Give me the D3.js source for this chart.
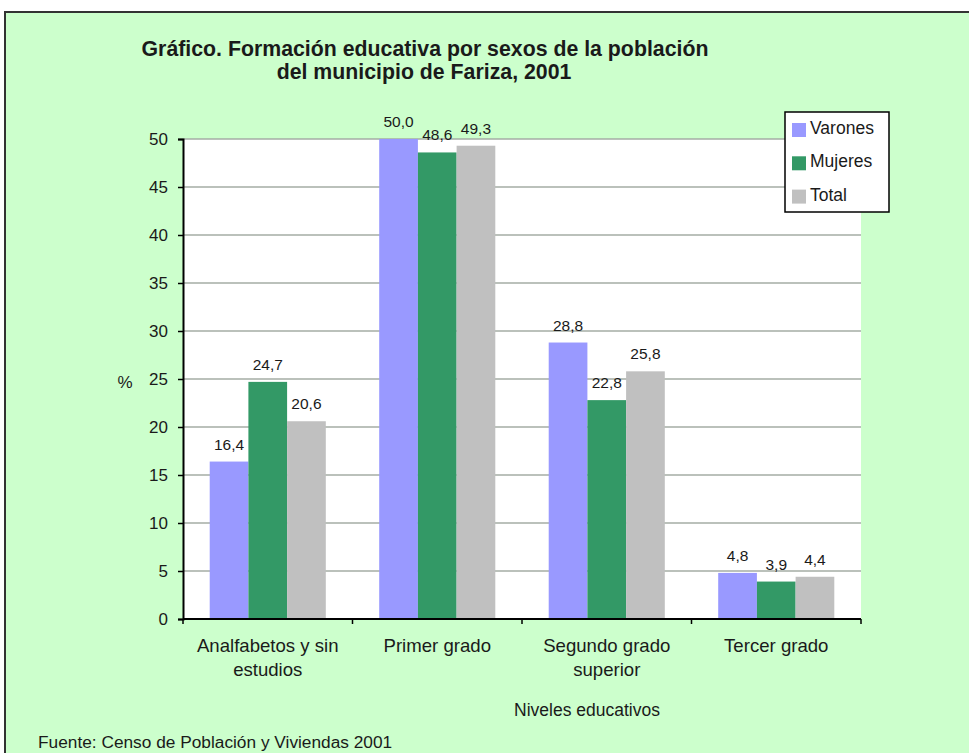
<!DOCTYPE html>
<html>
<head>
<meta charset="utf-8">
<script src="https://cdn.jsdelivr.net/npm/d3@7"></script>
<style>
  body { margin: 0; background: #fff; }
  svg text { font-family: "Liberation Sans", Arial, sans-serif; fill: #1a1a1a; }
</style>
</head>
<body>
<div id="viz"></div>
<script>
// datos - data
var categories = [["Analfabetos y sin", "estudios"], ["Primer grado"], ["Segundo grado", "superior"], ["Tercer grado"]];
var series = ["Varones", "Mujeres", "Total"];
var varones = [16.4, 50.0, 28.8, 4.8];
var mujeres = [24.7, 48.6, 22.8, 3.9];
var total = [20.6, 49.3, 25.8, 4.4];
var yTicks = [0, 5, 10, 15, 20, 25, 30, 35, 40, 45, 50];

var values = [varones, mujeres, total];
var colors = ["#9999ff", "#339966", "#c0c0c0"];

var W = 969, H = 753;
var svg = d3.select('#viz').append('svg')
  .attr('width', W).attr('height', H);

// fondo verde con borde - green background with frame
svg.append('rect')
  .attr('x', 5).attr('y', 12)
  .attr('width', W + 10).attr('height', H + 10)
  .attr('fill', '#ccffcc')
  .attr('stroke', '#333').attr('stroke-width', 2);

var plotL = 183, plotR = 861, plotT = 139, plotB = 619;

var y = d3.scaleLinear().domain([0, 50]).range([plotB, plotT]);
var x0 = d3.scaleBand().domain(d3.range(categories.length)).range([plotL, plotR]).padding(0);
var x1 = d3.scaleBand().domain(series).range([0, x0.bandwidth()]).paddingInner(0).paddingOuter(0.69);

// area del grafico - plot area
svg.append('rect')
  .attr('x', plotL).attr('y', plotT)
  .attr('width', plotR - plotL).attr('height', plotB - plotT)
  .attr('fill', '#fff');

svg.append('g').selectAll('line')
  .data(yTicks.filter(function(d){ return d > 0; }))
  .join('line')
  .attr('x1', plotL).attr('x2', plotR)
  .attr('y1', function(d){ return y(d); })
  .attr('y2', function(d){ return y(d); })
  .attr('stroke', '#a4aca4').attr('stroke-width', 1.5);

// barras - bars
var groups = svg.append('g').selectAll('g')
  .data(categories)
  .join('g')
  .attr('transform', function(d, i){ return 'translate(' + x0(i) + ',0)'; });

groups.selectAll('rect')
  .data(function(d, i){ return series.map(function(s, j){ return {s: s, v: values[j][i], c: colors[j]}; }); })
  .join('rect')
  .attr('x', function(d){ return x1(d.s); })
  .attr('width', x1.bandwidth())
  .attr('y', function(d){ return y(d.v); })
  .attr('height', function(d){ return y(0) - y(d.v); })
  .attr('fill', function(d){ return d.c; });

groups.selectAll('text.lbl')
  .data(function(d, i){ return series.map(function(s, j){ return {s: s, v: values[j][i]}; }); })
  .join('text')
  .attr('class', 'lbl')
  .attr('x', function(d){ return x1(d.s) + x1.bandwidth() / 2; })
  .attr('y', function(d){ return y(d.v) - 12; })
  .attr('text-anchor', 'middle')
  .style('font-size', '15.5px')
  .text(function(d){ return d.v.toFixed(1).replace('.', ','); });

// ejes - axes
var yAxis = svg.append('g')
  .attr('transform', 'translate(' + plotL + ',0)')
  .call(d3.axisLeft(y).tickValues(yTicks).tickSize(5).tickPadding(10));
yAxis.select('.domain').attr('stroke', '#000').attr('stroke-width', 2);
yAxis.selectAll('.tick line').attr('stroke', '#000').attr('stroke-width', 1.5);
yAxis.selectAll('.tick text')
  .style('font-size', '17px')
  .style('font-family', '"Liberation Sans", Arial, sans-serif')
  .attr('fill', '#1a1a1a');

var xAxis = svg.append('g')
  .attr('transform', 'translate(0,' + plotB + ')');
xAxis.append('line')
  .attr('x1', plotL).attr('x2', plotR)
  .attr('stroke', '#000').attr('stroke-width', 2);
xAxis.selectAll('line.tk')
  .data(d3.range(categories.length + 1))
  .join('line')
  .attr('class', 'tk')
  .attr('x1', function(i){ return plotL + i * x0.step(); })
  .attr('x2', function(i){ return plotL + i * x0.step(); })
  .attr('y1', 0).attr('y2', 5)
  .attr('stroke', '#000').attr('stroke-width', 1.5);

var catText = svg.append('g').selectAll('text')
  .data(categories)
  .join('text')
  .attr('text-anchor', 'middle')
  .style('font-size', '18.6px')
  .attr('transform', function(d, i){ return 'translate(' + (x0(i) + x0.bandwidth() / 2) + ',652)'; });
catText.selectAll('tspan')
  .data(function(d){ return d; })
  .join('tspan')
  .attr('x', 0)
  .attr('dy', function(d, i){ return i === 0 ? 0 : 24; })
  .text(function(d){ return d; });

svg.append('text')
  .attr('x', 125).attr('y', 388)
  .attr('text-anchor', 'middle')
  .style('font-size', '17px')
  .text('%');

svg.append('text')
  .attr('x', 587).attr('y', 716)
  .attr('text-anchor', 'middle')
  .style('font-size', '17.5px')
  .text('Niveles educativos');

// titulo - title
svg.append('text')
  .attr('x', 425).attr('y', 56)
  .attr('text-anchor', 'middle')
  .style('font-size', '21.3px').style('font-weight', 'bold')
  .text('Gráfico. Formación educativa por sexos de la población');
svg.append('text')
  .attr('x', 424).attr('y', 79)
  .attr('text-anchor', 'middle')
  .style('font-size', '21.3px').style('font-weight', 'bold')
  .text('del municipio de Fariza, 2001');

svg.append('text')
  .attr('x', 38).attr('y', 748)
  .style('font-size', '17.3px')
  .text('Fuente: Censo de Población y Viviendas 2001');

// leyenda - legend
var legend = svg.append('g').attr('transform', 'translate(785,112)');
legend.append('rect')
  .attr('width', 104).attr('height', 100)
  .attr('fill', '#fff').attr('stroke', '#000').attr('stroke-width', 1.5);
var items = legend.selectAll('g.item')
  .data(series)
  .join('g')
  .attr('class', 'item')
  .attr('transform', function(d, i){ return 'translate(0,' + (i * 33.3) + ')'; });
items.append('rect')
  .attr('x', 7).attr('y', 11)
  .attr('width', 14).attr('height', 14)
  .attr('fill', function(d, i){ return colors[i]; });
items.append('text')
  .attr('x', 25).attr('y', 22)
  .style('font-size', '17.5px')
  .text(function(d){ return d; });
</script>
</body>
</html>
